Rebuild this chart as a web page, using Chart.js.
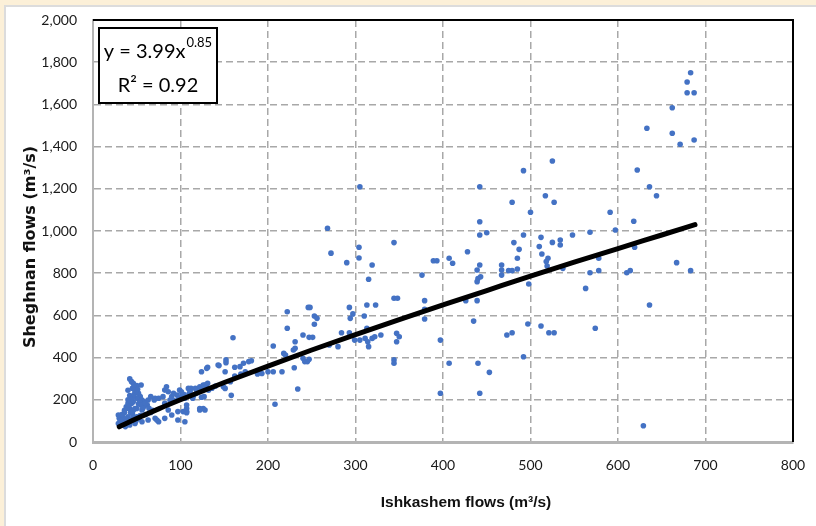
<!DOCTYPE html>
<html>
<head>
<meta charset="utf-8">
<script src="https://cdn.jsdelivr.net/npm/chart.js@4.4.0/dist/chart.umd.min.js"></script>
<style>
  html, body { margin: 0; padding: 0; background: #fcf0d8; }
  #frame { position: absolute; left: 4px; top: 5px; width: 812px; height: 521px; background: #fff;
           border-left: 2px solid #dcdcdc; border-top: 2px solid #dcdcdc; }
  #wrap { position: absolute; left: 0; top: 0; width: 816px; height: 526px; }
</style>
</head>
<body>
<div id="frame"></div>
<div id="wrap"><canvas id="chart" width="816" height="526"></canvas></div>
<script>
// observed daily flows, Ishkashem (x) vs Sheghnan (y), m3/s
const ishkashemFlows = [
  29, 30, 29, 33, 37, 42, 48, 56, 63, 71, 75, 82, 90, 97, 107, 97, 105, 103, 107, 122, 126,
  42, 44, 46, 50, 52, 54, 50, 56, 46, 44, 40, 38, 42, 48, 50, 56, 59, 63, 71, 75, 80, 82, 84,
  86, 90, 96, 99, 109, 112, 124, 128, 73, 86, 82, 70, 66, 55,
  35, 40, 45, 32, 38, 44, 50, 60, 66, 36, 42, 48, 52, 58, 62, 34, 46, 40, 54, 31,
  33, 36, 39, 41, 43, 45, 47, 49, 51, 53, 55, 57, 43, 46, 49, 52, 38, 41, 35, 60, 64, 68, 45, 47, 40,
  110, 115, 120, 125, 132, 136, 140, 104, 98, 93,
  160, 152, 152, 144, 131, 162, 168, 172, 178, 151, 162, 169, 174, 157, 149, 151, 158, 111,
  117, 122, 126, 129, 131, 118, 124, 127, 114, 105, 101, 88, 107, 107, 122, 128, 92, 101, 143, 130,
  305, 268, 272, 304, 304, 290, 319, 315, 344, 344, 348, 246, 248, 222, 293, 313, 323, 297,
  253, 256, 310, 294, 253, 222, 313, 240, 247, 251, 284, 293, 299, 305, 311, 314, 319, 322,
  329, 315, 347, 347, 350, 206, 231, 231, 229, 218, 220, 240, 242, 247, 245, 344, 344, 181,
  200, 206, 216, 188, 193, 230, 234, 208, 270, 280,
  492, 442, 479, 500, 442, 442, 450, 492, 481, 487, 510, 428, 389, 393, 407, 411, 485, 442,
  439, 467, 467, 467, 475, 479, 485, 376, 443, 440, 439, 498, 379, 426, 439, 379, 379, 435,
  497, 397, 473, 479, 407, 440, 453, 492, 397, 442,
  525, 622, 636, 517, 527, 591, 618, 597, 512, 513, 525, 534, 534, 548, 568, 520, 518, 519,
  537, 578, 568, 578, 610, 614, 619, 563, 636, 512, 521, 527, 574, 629,
  683, 679, 679, 687, 662, 633, 662, 671, 687, 644, 667, 683
];
const sheghnanFlows = [
  128, 112, 88, 81, 73, 81, 88, 96, 104, 112, 96, 112, 128, 144, 159, 104, 96, 144, 144, 159, 159,
  299, 286, 278, 267, 231, 215, 207, 199, 191, 183, 183, 167, 159, 159, 159, 152, 191, 199, 207, 207, 215, 246, 262,
  238, 215, 223, 246, 254, 254, 333, 270, 104, 152, 183, 199, 215, 270,
  100, 120, 135, 95, 110, 105, 120, 130, 140, 140, 220, 240, 180, 170, 175, 118, 150, 200, 125, 105,
  130, 150, 160, 175, 195, 210, 225, 240, 250, 190, 175, 160, 140, 120, 100, 110, 90, 100, 85, 185, 160, 150, 255, 270, 245,
  230, 220, 240, 250, 245, 255, 265, 225, 205, 195,
  494, 389, 376, 362, 354, 354, 357, 373, 381, 333, 313, 322, 333, 286, 262, 254, 221, 238,
  254, 262, 270, 270, 278, 231, 212, 215, 207, 207, 215, 199, 175, 139, 152, 152, 231, 238, 365, 349,
  1210, 1013, 895, 923, 872, 850, 839, 771, 945, 681, 681, 638, 638, 617, 638, 649, 649, 607,
  597, 586, 597, 586, 558, 539, 539, 507, 496, 496, 518, 518, 483, 483, 491, 475, 491, 499,
  507, 452, 515, 475, 499, 455, 475, 444, 436, 420, 412, 397, 381, 392, 381, 389, 373, 385,
  333, 333, 333, 322, 325, 352, 251, 179, 460, 452,
  1286, 1210, 1136, 1089, 1044, 981, 992, 981, 945, 913, 926, 902, 859, 859, 871, 847, 871, 839,
  815, 839, 815, 791, 812, 812, 820, 791, 783, 775, 760, 749, 670, 670, 670, 629, 583, 573,
  559, 483, 507, 518, 373, 373, 330, 404, 231, 231,
  1332, 1289, 1210, 1167, 1136, 1089, 1046, 1005, 970, 891, 946, 957, 934, 981, 994, 871, 855, 834,
  823, 871, 802, 812, 802, 812, 923, 728, 649, 550, 518, 518, 539, 77,
  1750, 1706, 1655, 1655, 1584, 1487, 1463, 1411, 1431, 1167, 850, 812
];

// power trendline y = 3.99x^0.85
const trendX = [30, 50, 75, 100, 150, 200, 250, 300, 350, 400, 450, 500, 550, 600, 650, 688];
const trendY = [72, 111, 157, 200, 282, 360, 436, 509, 580, 650, 718, 786, 852, 917, 981, 1030];

const xTicks = [0, 100, 200, 300, 400, 500, 600, 700, 800];
const yTicks = [0, 200, 400, 600, 800, 1000, 1200, 1400, 1600, 1800, 2000];

const xTitle = "Ishkashem flows (m\u00b3/s)";
const yTitle = "Sheghnan flows (m\u00b3/s)";

const narrow = "Lato, 'Open Sans', sans-serif";
const tickFont = { family: narrow, size: 14 };

const framePlugin = {
  id: "frame",
  afterDraw(chart) {
    const { ctx, chartArea: a } = chart;
    ctx.save();
    ctx.strokeStyle = "#000";
    ctx.lineWidth = 2;
    ctx.beginPath();
    ctx.moveTo(a.left, a.top);
    ctx.lineTo(a.right, a.top);
    ctx.lineTo(a.right, a.bottom);
    ctx.stroke();

    // axis titles
    ctx.fillStyle = "#111";
    ctx.textAlign = "center";
    ctx.textBaseline = "middle";
    ctx.font = "bold 15.5px 'Liberation Sans', Arial, sans-serif";
    ctx.fillText(xTitle, 466, 503);
    ctx.save();
    ctx.translate(31, 247);
    ctx.rotate(-Math.PI / 2);
    ctx.font = "bold 16px 'DejaVu Sans', sans-serif";
    ctx.fillText(yTitle, 0, 0);
    ctx.restore();

    // equation box
    const bx = a.left + 6, by = a.top + 8, bw = 118, bh = 75;
    ctx.fillStyle = "#fff";
    ctx.fillRect(bx, by, bw, bh);
    ctx.lineWidth = 2;
    ctx.strokeRect(bx, by, bw, bh);
    ctx.fillStyle = "#000";
    ctx.textAlign = "left";
    ctx.textBaseline = "alphabetic";
    const big = "20px " + narrow;
    const small = "13px " + narrow;
    ctx.font = big;
    const t1 = "y = 3.99x";
    const w1 = ctx.measureText(t1).width;
    ctx.font = small;
    const s1 = "0.85";
    const ws = ctx.measureText(s1).width;
    const cx = bx + bw / 2;
    const x0 = cx - (w1 + ws + 1) / 2;
    ctx.font = big;
    ctx.fillText(t1, x0, by + 30);
    ctx.font = small;
    ctx.fillText(s1, x0 + w1 + 1, by + 19);
    ctx.font = big;
    ctx.textAlign = "center";
    ctx.fillText("R\u00b2 = 0.92", cx, by + 64);
    ctx.restore();
  }
};

const scatterPoints = ishkashemFlows.map((x, i) => ({ x: x, y: sheghnanFlows[i] }));
const trendPoints = trendX.map((x, i) => ({ x: x, y: trendY[i] }));

new Chart(document.getElementById("chart"), {
  type: "scatter",
  plugins: [framePlugin],
  data: {
    datasets: [
      {
        type: "line",
        data: trendPoints,
        borderColor: "#000",
        borderWidth: 5,
        borderCapStyle: "round",
        pointRadius: 0,
        cubicInterpolationMode: "monotone",
        order: 0,
      },
      {
        data: scatterPoints,
        backgroundColor: "#4472c4",
        borderWidth: 0,
        pointRadius: 2.8,
        order: 1,
      },
    ],
  },
  options: {
    responsive: false,
    animation: false,
    layout: { padding: { left: 0, top: 20, right: 23, bottom: 0 } },
    plugins: { legend: { display: false }, tooltip: { enabled: false } },
    scales: {
      x: {
        type: "linear",
        min: xTicks[0],
        max: xTicks[xTicks.length - 1],
        afterFit: (s) => { s.height = 84; s.paddingLeft = 0; s.paddingRight = 0; },
        afterBuildTicks: (s) => { s.ticks = xTicks.map((v) => ({ value: v })); },
        ticks: { font: tickFont, color: "#1a1a1a", padding: 15 },
        grid: { color: "#a8a8a8", lineWidth: 1.5, drawTicks: false },
        border: { color: "#b4b4b4", width: 3, dash: [7, 4] },
      },
      y: {
        min: yTicks[0],
        max: yTicks[yTicks.length - 1],
        afterFit: (s) => { s.width = 93; s.paddingTop = 0; s.paddingBottom = 0; },
        afterBuildTicks: (s) => { s.ticks = yTicks.map((v) => ({ value: v })); },
        ticks: {
          font: tickFont,
          color: "#1a1a1a",
          padding: 16,
          callback: (v) => v.toLocaleString("en-US"),
        },
        grid: { color: "#a8a8a8", lineWidth: 1.5, drawTicks: false },
        border: { color: "#b4b4b4", width: 2, dash: [7, 4] },
      },
    },
  },
});
</script>
</body>
</html>
